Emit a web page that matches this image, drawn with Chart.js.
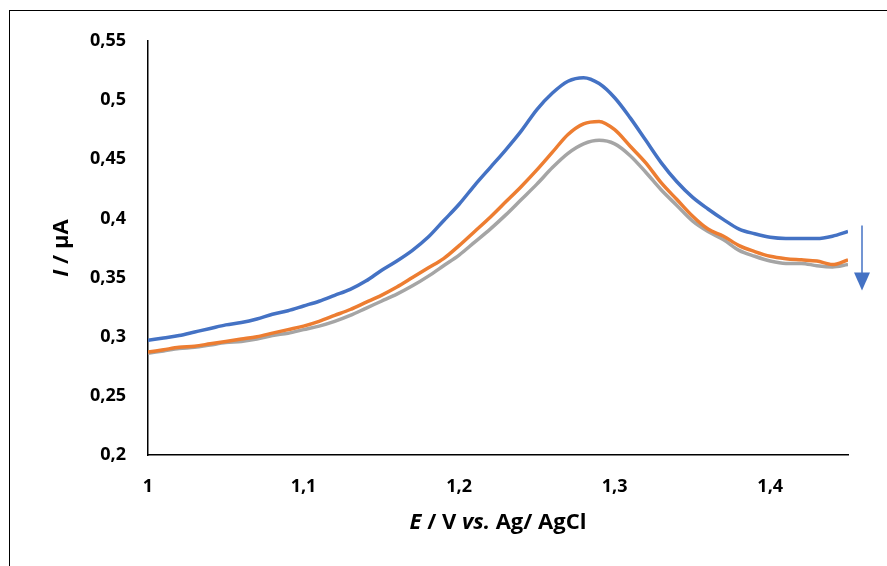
<!DOCTYPE html>
<html>
<head>
<meta charset="utf-8">
<script src="https://cdn.jsdelivr.net/npm/chart.js@4/dist/chart.umd.min.js"></script>
<style>
  html, body { margin: 0; padding: 0; background: #fff; overflow: hidden; }
  #wrap { position: relative; width: 887px; height: 566px; }
  #frame { position: absolute; left: 9px; top: 10px; width: 1000px; height: 1000px; border: 1.5px solid #000; box-sizing: border-box; }
  canvas { position: absolute; left: 0; top: 0; }
</style>
</head>
<body>
<div id="wrap">
  <div id="frame"></div>
  <canvas id="chart" width="887" height="566"></canvas>
</div>
<script>
// potential (V vs. Ag/AgCl)
const potentials = [
  1.00, 1.01, 1.02, 1.03, 1.04, 1.05, 1.06, 1.07, 1.08, 1.09,
  1.10, 1.11, 1.12, 1.13, 1.14, 1.15, 1.16, 1.17, 1.18, 1.19,
  1.20, 1.21, 1.22, 1.23, 1.24, 1.25, 1.26, 1.27, 1.28, 1.29,
  1.30, 1.31, 1.32, 1.33, 1.34, 1.35, 1.36, 1.37, 1.38, 1.39,
  1.40, 1.41, 1.42, 1.43, 1.44, 1.45
];

// current (µA)
const blueCurrent = [
  0.297, 0.299, 0.301, 0.304, 0.307, 0.310, 0.312, 0.315, 0.319, 0.322,
  0.326, 0.330, 0.335, 0.340, 0.347, 0.356, 0.364, 0.373, 0.384, 0.398,
  0.412, 0.428, 0.443, 0.458, 0.474, 0.492, 0.506, 0.516, 0.519, 0.514,
  0.502, 0.485, 0.466, 0.447, 0.431, 0.418, 0.408, 0.399, 0.391, 0.387,
  0.384, 0.383, 0.383, 0.383, 0.385, 0.389
];
const orangeCurrent = [
  0.287, 0.289, 0.291, 0.292, 0.294, 0.296, 0.298, 0.300, 0.303, 0.306,
  0.309, 0.313, 0.318, 0.323, 0.329, 0.335, 0.342, 0.350, 0.358, 0.366,
  0.377, 0.389, 0.401, 0.414, 0.427, 0.441, 0.456, 0.471, 0.480, 0.482,
  0.475, 0.461, 0.447, 0.430, 0.416, 0.402, 0.391, 0.385, 0.377, 0.372,
  0.368, 0.366, 0.365, 0.364, 0.361, 0.365
];
const grayCurrent = [
  0.286, 0.288, 0.290, 0.291, 0.293, 0.295, 0.296, 0.298, 0.301, 0.303,
  0.306, 0.309, 0.313, 0.318, 0.324, 0.330, 0.336, 0.343, 0.351, 0.360,
  0.369, 0.380, 0.391, 0.403, 0.416, 0.429, 0.443, 0.455, 0.463, 0.466,
  0.463, 0.453, 0.439, 0.424, 0.411, 0.398, 0.389, 0.382, 0.373, 0.368,
  0.364, 0.362, 0.362, 0.360, 0.359, 0.361
];

const xTicks = [1, 1.1, 1.2, 1.3, 1.4];
const yTicks = [0.2, 0.25, 0.3, 0.35, 0.4, 0.45, 0.5, 0.55];

// arrow showing the decrease (in data units)
const arrowX = 1.459;
const arrowTop = 0.394;
const arrowTip = 0.339;

const FONT = "'Open Sans', Lato, sans-serif";

function commaNum(v) {
  return String(Number(v.toFixed(2))).replace(".", ",");
}

function series(ys) {
  return potentials.map((x, i) => ({ x: x, y: ys[i] }));
}

const extras = {
  id: "extras",
  afterDraw(chart) {
    const ctx = chart.ctx;
    const xs = chart.scales.x;
    const ys = chart.scales.y;
    const area = chart.chartArea;

    // arrow
    const ax = xs.getPixelForValue(arrowX);
    const y0 = ys.getPixelForValue(arrowTop);
    const y1 = ys.getPixelForValue(arrowTip);
    ctx.save();
    ctx.strokeStyle = "#4472C4";
    ctx.fillStyle = "#4472C4";
    ctx.lineWidth = 1.5;
    ctx.beginPath();
    ctx.moveTo(ax, y0);
    ctx.lineTo(ax, y1 - 12);
    ctx.stroke();
    ctx.beginPath();
    ctx.moveTo(ax - 8, y1 - 18);
    ctx.lineTo(ax + 8, y1 - 18);
    ctx.lineTo(ax, y1);
    ctx.closePath();
    ctx.fill();
    ctx.restore();

    // axis titles with mixed italic
    function drawParts(parts, cx, cy) {
      let total = 0;
      parts.forEach(p => { ctx.font = p[1] + " bold 22px " + FONT; total += ctx.measureText(p[0]).width; });
      let x = cx - total / 2;
      parts.forEach(p => {
        ctx.font = p[1] + " bold 22px " + FONT;
        ctx.fillText(p[0], x, cy);
        x += ctx.measureText(p[0]).width;
      });
    }
    ctx.save();
    ctx.fillStyle = "#000";
    ctx.textBaseline = "middle";
    ctx.textAlign = "left";
    drawParts([["E", "italic"], [" / V ", "normal"], ["vs.", "italic"], [" Ag/ AgCl", "normal"]],
      (area.left + area.right) / 2, 523);
    ctx.translate(62, (area.top + area.bottom) / 2);
    ctx.rotate(-Math.PI / 2);
    drawParts([["I", "italic"], [" / µA", "normal"]], 0, 0);
    ctx.restore();
  }
};

const config = {
  type: "line",
  data: {
    datasets: [
      { label: "1", data: series(blueCurrent), borderColor: "#4472C4" },
      { label: "2", data: series(orangeCurrent), borderColor: "#ED7D31" },
      { label: "3", data: series(grayCurrent), borderColor: "#A5A5A5" },
    ].map(d => Object.assign(d, {
      fill: false,
      borderWidth: 3.5,
      pointRadius: 0,
      cubicInterpolationMode: "monotone",
    })),
  },
  options: {
    responsive: false,
    animation: false,
    layout: { padding: { left: 0, right: 39, top: 41, bottom: 0 } },
    plugins: { legend: { display: false }, tooltip: { enabled: false } },
    scales: {
      x: {
        type: "linear",
        min: 1,
        max: 1.45,
        grid: { display: false, drawTicks: false },
        border: { display: true, color: "#000", width: 1.5 },
        afterBuildTicks: (s) => { s.ticks = xTicks.map(v => ({ value: v })); },
        afterFit: (s) => { s.height = 111; },
        ticks: {
          padding: 21,
          maxRotation: 0,
          color: "#000",
          font: { family: FONT, size: 18, weight: "bold" },
          callback: (v) => commaNum(v),
        },
      },
      y: {
        min: 0.2,
        max: 0.55,
        grid: { display: false, drawTicks: false },
        border: { display: true, color: "#000", width: 1.5 },
        afterBuildTicks: (s) => { s.ticks = yTicks.map(v => ({ value: v })); },
        afterFit: (s) => { s.width = 148; },
        ticks: {
          padding: 22,
          color: "#000",
          font: { family: FONT, size: 18, weight: "bold" },
          callback: (v) => commaNum(v),
        },
      },
    },
  },
  plugins: [extras],
};

let chartCon = document.querySelector("#chart");
let chart = new Chart(chartCon, config);
</script>
</body>
</html>
